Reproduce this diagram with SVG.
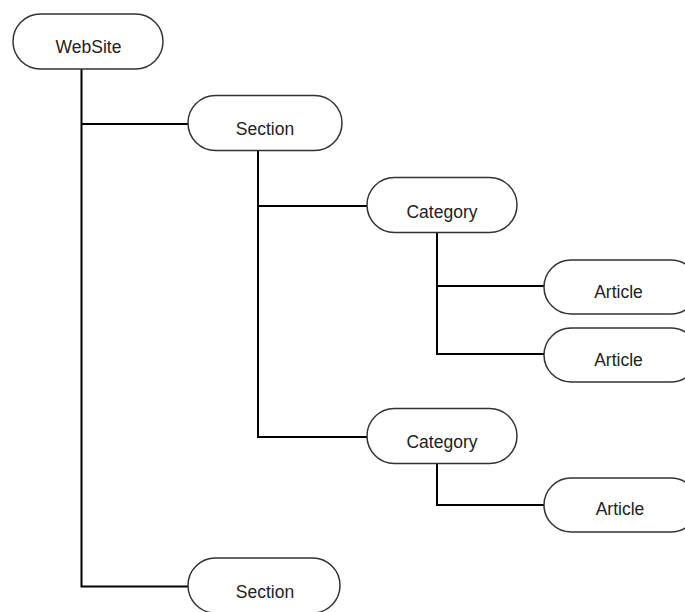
<svg xmlns="http://www.w3.org/2000/svg" width="685" height="612" viewBox="0 0 685 612">
<style>
.node rect{fill:#fff;stroke:#333;stroke-width:1.5}
.node text{font-family:"Liberation Sans",Arial,sans-serif;font-size:17.5px;fill:#222;text-anchor:middle}
.conn path{fill:none;stroke:#000;stroke-width:2}
</style>
<rect width="685" height="612" fill="#fff"/>
<g id="connectors" class="conn">
<path d="M81.5 69V586.5H188"/>
<path d="M81.5 124H188"/>
<path d="M258 151V437H367"/>
<path d="M258 206H367"/>
<path d="M437 232V354H544"/>
<path d="M437 286H544"/>
<path d="M437 463V505H544"/>
</g>
<g id="website" class="node"><rect x="13" y="14" width="150" height="55" rx="27.5"/><text x="88.5" y="53">WebSite</text></g>
<g id="section1" class="node"><rect x="188" y="95.5" width="154" height="55" rx="27.5"/><text x="265" y="135">Section</text></g>
<g id="category1" class="node"><rect x="367" y="177.5" width="150" height="55" rx="27.5"/><text x="442" y="218">Category</text></g>
<g id="article1" class="node"><rect x="544" y="260" width="154" height="54" rx="27"/><text x="618.5" y="298">Article</text></g>
<g id="article2" class="node"><rect x="544" y="328" width="154" height="54" rx="27"/><text x="618.5" y="366">Article</text></g>
<g id="category2" class="node"><rect x="367" y="408.5" width="150" height="55" rx="27.5"/><text x="442" y="448">Category</text></g>
<g id="article3" class="node"><rect x="544" y="478" width="154" height="54" rx="27"/><text x="620" y="515">Article</text></g>
<g id="section2" class="node"><rect x="188" y="558" width="152" height="55" rx="27.5"/><text x="265" y="598">Section</text></g>
</svg>
